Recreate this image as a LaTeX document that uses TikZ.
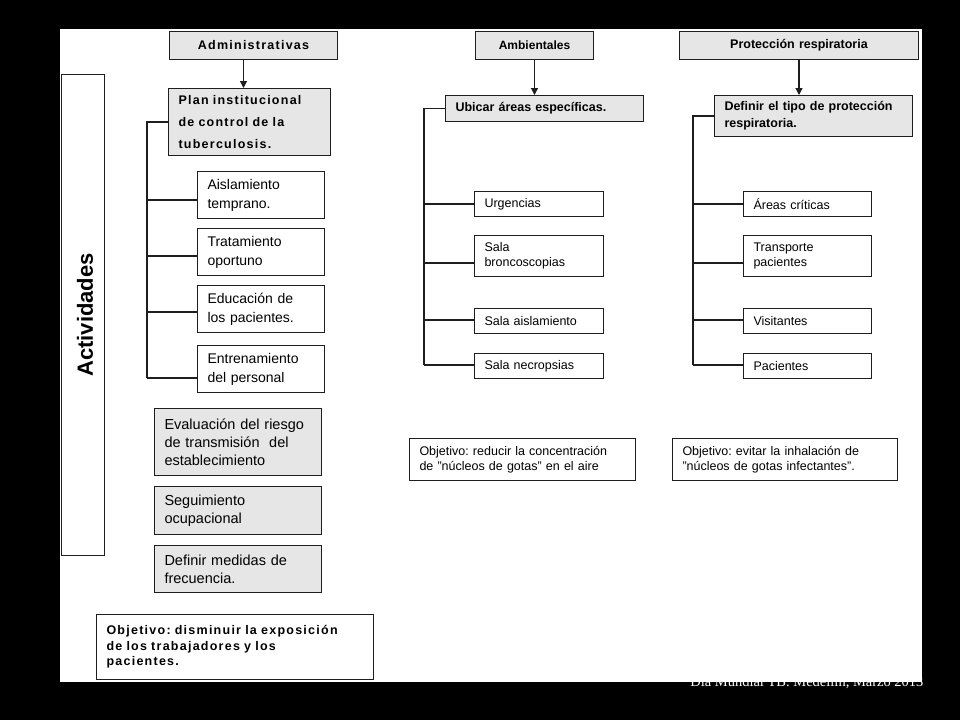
\documentclass[tikz,border=0pt]{standalone}
\usepackage{fontspec}
\setmainfont{Liberation Sans}
\newfontfamily\espaciada[LetterSpace=10]{Liberation Sans}
\newfontfamily\pie{Liberation Serif}
\usetikzlibrary{arrows.meta}
\definecolor{relleno}{RGB}{230,230,230}
\definecolor{borde}{RGB}{30,30,30}
\def\tamano#1#2{\fontsize{#1}{#2}\selectfont}
\frenchspacing

\begin{document}
\begin{tikzpicture}[x=1pt,y=-1pt,
    caja/.style={draw=borde,line width=1pt,anchor=north west,align=left,inner xsep=10pt,inner ysep=0pt},
    gris/.style={caja,fill=relleno},
    blanca/.style={caja,fill=white},
    cabeza/.style={gris,align=center,font=\bfseries\tamano{12.5}{14}},
    tronco/.style={draw=borde,line width=1.5pt},
    rama/.style={draw=borde,line width=1.2pt},
    flecha/.style={draw=borde,line width=1.2pt,-{Triangle[length=7pt,width=7pt]}}]
    \useasboundingbox (0,0) rectangle (960,720);
    \fill[black] (0,0) rectangle (960,720);
    \fill[white] (60,29) rectangle (922,682);

    % Actividades
    \node[caja,fill=white,minimum width=43pt,minimum height=481pt,inner sep=0pt] (act) at (61,74) {};
    \node[rotate=90,font=\bfseries\tamano{22}{24}] (acttxt) at ([xshift=2pt]act.center) {Actividades};

    % Administrativas
    \node[cabeza,font=\espaciada\bfseries\tamano{12.5}{14},minimum height=28pt,text width=148pt] (adm) at (169,31) {Administrativas};
    \node[gris,font=\espaciada\bfseries\tamano{12.5}{22},minimum height=67pt,text width=142pt] (plan) at (168,88) {Plan institucional\\de control de la\\tuberculosis.};
    \foreach \n/\y/\t in {ais/171/{Aislamiento\\temprano.},tra/228/{Tratamiento\\oportuno},edu/285/{Educación de\\los pacientes.},ent/345/{Entrenamiento\\del personal}}
        \node[blanca,font=\tamano{14}{19},minimum height=47pt,text width=107pt] (\n) at (197,\y) {\t};
    \foreach \n/\y/\h/\t in {eva/408/67/{Evaluación del riesgo\\de transmisión\ \ del\\establecimiento},seg/486/48/{Seguimiento\\ocupacional},med/545/47/{Definir medidas de\\frecuencia.}}
        \node[gris,font=\tamano{14.5}{18},minimum height=\h pt,text width=147pt] (\n) at (154,\y) {\t};
    \node[blanca,font=\espaciada\bfseries\tamano{12.5}{15.5},minimum height=65pt,text width=257pt] (objA) at (96,614) {Objetivo: disminuir la exposición\\de los trabajadores y los\\pacientes.};

    % Ambientales
    \node[cabeza,font=\bfseries\tamano{12}{14},minimum height=28pt,text width=98pt] (amb) at (475,31) {Ambientales};
    \node[gris,font=\bfseries\tamano{12.5}{15},minimum height=26pt,text width=178pt] (ubi) at (445,95) {Ubicar áreas específicas.};
    \foreach \n/\y/\h/\t in {urg/191/25/Urgencias,bro/235/41/{Sala\\broncoscopias},sai/308/25/Sala aislamiento,nec/353/25/Sala necropsias}
        \node[blanca,font=\tamano{12.5}{15},minimum height=\h pt,text width=109pt] (\n) at (474,\y) {\t};
    \node[blanca,font=\tamano{12.5}{15},minimum height=42pt,text width=206pt] (objB) at (409,438) {Objetivo: reducir la concentración\\de "núcleos de gotas" en el aire};

    % Proteccion respiratoria
    \node[cabeza,minimum height=28pt,text width=219pt] (pro) at (679,31) {Protección respiratoria};
    \node[gris,font=\bfseries\tamano{12.5}{17},minimum height=41pt,text width=178pt] (def) at (714,95) {Definir el tipo de protección\\respiratoria.};
    \foreach \n/\y/\h/\t in {are/191/25/Áreas críticas,tpa/235/41/{Transporte\\pacientes},vis/308/25/Visitantes,pac/353/25/Pacientes}
        \node[blanca,font=\tamano{12.5}{15},minimum height=\h pt,text width=108pt] (\n) at (743,\y) {\t};
    \node[blanca,font=\tamano{12.5}{15},minimum height=42pt,text width=205pt] (objC) at (672,438) {Objetivo: evitar la inhalación de\\"núcleos de gotas infectantes".};

    % flechas
    \path ([xshift=-10pt]adm.south) coordinate (fa);
    \draw[flecha] (fa) -- (fa |- plan.north);
    \draw[flecha] (amb.south) -- (amb.south |- ubi.north);
    \draw[flecha] (pro.south) -- (pro.south |- def.north);

    % troncos y ramas
    \coordinate (bA) at (147,378);
    \coordinate (bB) at (424,365);
    \coordinate (bC) at (693,365);
    \draw[tronco] (plan.west) -| (bA);
    \draw[tronco] (ubi.west) -| (bB);
    \draw[tronco] (def.west) -| (bC);
    \foreach \n/\y in {ais/200,tra/256,edu/312,ent/378} {
        \coordinate (r\n) at (147,\y);
        \draw[rama] (r\n) -- (r\n -| \n.west);
    }
    \foreach \n/\y in {urg/204,bro/263,sai/320,nec/365} {
        \coordinate (r\n) at (424,\y);
        \draw[rama] (r\n) -- (r\n -| \n.west);
    }
    \foreach \n/\y in {are/204,tpa/263,vis/320,pac/365} {
        \coordinate (r\n) at (693,\y);
        \draw[rama] (r\n) -- (r\n -| \n.west);
    }

    \node[anchor=base east,text=white,font=\pie\tamano{14.5}{16}] (piepag) at (927,686) {Día Mundial TB. Medellín, Marzo 2013};
\end{tikzpicture}
\end{document}
